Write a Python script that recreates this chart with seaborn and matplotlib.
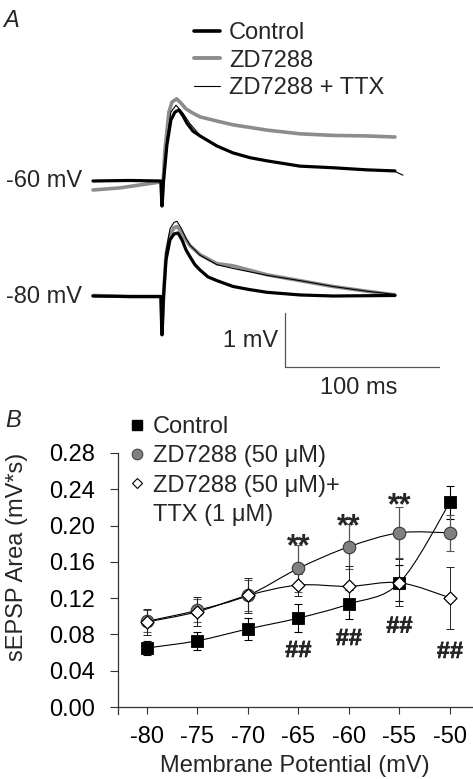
import numpy as np
import matplotlib
matplotlib.use("Agg")
import matplotlib.pyplot as plt
from matplotlib.lines import Line2D
from matplotlib.path import Path
from matplotlib.patches import PathPatch
import matplotlib.patheffects as pe
import seaborn as sns

# ---------------- data: panel A traces (time in ms, deflection in mV) ----------------
t_c60 = [-44.6, -20.6, -0.5, 0.2, 1.2, 3.4, 6.0, 8.6, 11.2, 13.8, 16.4, 20.3, 24.9, 35.9, 46.3, 57.3, 68.4, 89.8, 111.2, 133.3, 151.5]
v_c60 = [0.00, 0.01, 0.00, -0.47, 0.00, 0.68, 1.15, 1.30, 1.34, 1.23, 1.09, 0.94, 0.85, 0.66, 0.53, 0.44, 0.38, 0.28, 0.25, 0.21, 0.19]

t_t60 = [-44.6, -20.6, -0.5, 0.2, 1.2, 3.4, 6.0, 9.3, 13.8, 18.4, 24.9, 35.9, 46.3, 57.3, 68.4, 89.8, 111.2, 133.3, 151.5, 156.7]
v_t60 = [0.00, 0.01, 0.00, -0.47, 0.00, 0.80, 1.30, 1.43, 1.28, 1.08, 0.86, 0.66, 0.53, 0.44, 0.38, 0.28, 0.25, 0.21, 0.18, 0.11]

t_g60 = [-44.6, -27.1, -14.1, -1.1, -0.3, 0.2, 1.0, 2.1, 4.7, 6.7, 9.7, 12.5, 15.8, 20.3, 24.9, 35.9, 46.3, 68.4, 89.8, 111.2, 133.3, 151.5]
v_g60 = [-0.17, -0.13, -0.075, -0.02, -0.02, -0.47, 0.0, 0.58, 1.30, 1.49, 1.55, 1.47, 1.36, 1.28, 1.21, 1.13, 1.06, 0.96, 0.89, 0.86, 0.85, 0.83]

t_c80 = [-44.6, -20.6, -0.5, 0.2, 1.2, 2.8, 5.4, 8.0, 10.6, 13.2, 15.8, 18.4, 21.6, 24.9, 30.1, 35.9, 46.3, 57.3, 68.4, 89.8, 111.2, 151.5]
v_c80 = [0.01, 0.00, 0.00, -0.72, 0.00, 0.69, 1.07, 1.18, 1.20, 1.07, 0.88, 0.75, 0.60, 0.50, 0.37, 0.30, 0.19, 0.13, 0.08, 0.03, 0.01, 0.02]

t_g80 = [-44.6, -20.6, -0.5, 0.2, 1.2, 2.8, 5.4, 8.0, 9.9, 12.5, 15.8, 18.4, 24.9, 35.9, 46.3, 68.4, 89.8, 111.2, 133.3, 151.5]
v_g80 = [0.02, 0.00, 0.00, -0.72, 0.00, 0.79, 1.16, 1.30, 1.32, 1.24, 1.07, 0.96, 0.79, 0.62, 0.58, 0.41, 0.30, 0.19, 0.10, 0.03]

t_t80 = [-44.6, -20.6, -0.5, 0.2, 1.2, 2.8, 5.4, 8.0, 9.9, 12.5, 15.8, 18.4, 24.9, 35.9, 46.3, 68.4, 89.8, 111.2, 133.3, 151.5]
v_t80 = [0.00, 0.01, 0.00, -0.72, 0.00, 0.85, 1.28, 1.40, 1.42, 1.30, 1.10, 0.97, 0.78, 0.60, 0.53, 0.40, 0.30, 0.19, 0.10, 0.04]

trace_labels = ["Control", "ZD7288", "ZD7288 + TTX"]
holding_labels = ["-60 mV", "-80 mV"]

# ---------------- data: panel B ----------------
potential = [-80, -75, -70, -65, -60, -55, -50]
control = [0.065, 0.073, 0.086, 0.098, 0.1135, 0.137, 0.2256]
control_err = [0.008, 0.010, 0.012, 0.015, 0.016, 0.020, 0.018]
zd = [0.0944, 0.1066, 0.123, 0.1528, 0.1766, 0.192, 0.192]
zd_err = [0.012, 0.013, 0.017, 0.026, 0.025, 0.028, 0.020]
zdttx = [0.0937, 0.105, 0.123, 0.1344, 0.133, 0.137, 0.1204]
zdttx_err = [0.014, 0.016, 0.019, 0.012, 0.022, 0.026, 0.034]
series_labels = ["Control", "ZD7288 (50 \u03bcM)", "ZD7288 (50 \u03bcM)+", "TTX (1 \u03bcM)"]
star_x = [-65, -60, -55]
star_y = [0.1676, 0.1896, 0.2121]
hash_x = [-65, -60, -55, -50]
hash_y = [0.0551, 0.0683, 0.0819, 0.054]
yticks = [0.00, 0.04, 0.08, 0.12, 0.16, 0.20, 0.24, 0.28]

# ---------------- style ----------------
sns.set_theme(style="ticks")
plt.rcParams["font.family"] = ["Liberation Sans", "DejaVu Sans"]
FS = 17
SPINE = "#333333"
GRAY = "#8c8c8c"

W, H = 473, 779
fig = plt.figure(figsize=(W / 100, H / 100), dpi=100)


def fx(px):
    return px / W


def fy(py):
    return 1 - py / H


# ---------------- panel A ----------------
ax_a = fig.add_axes([fx(85), fy(400), fx(445) - fx(85), fy(10) - fy(400)])
ax_a.set_xlim(-49.8, 184.0)
ax_a.set_ylim(-4.132, 3.226)
ax_a.axis("off")
OFF80 = -2.18

ax_a.plot(t_g60, v_g60, color=GRAY, lw=2.6, solid_joinstyle="round", zorder=1)
ax_a.plot(t_c60, v_c60, color="black", lw=2.3, solid_joinstyle="round", zorder=2)
ax_a.plot(t_t60, v_t60, color="black", lw=0.8, zorder=3)
ax_a.plot(t_g80, np.array(v_g80) + OFF80, color=GRAY, lw=2.6, solid_joinstyle="round", zorder=1)
ax_a.plot(t_c80, np.array(v_c80) + OFF80, color="black", lw=2.3, solid_joinstyle="round", zorder=2)
ax_a.plot(t_t80, np.array(v_t80) + OFF80, color="black", lw=0.8, zorder=3)

# scale bar
ax_a.plot([80, 80, 180], [-2.5, -3.5, -3.5], color="#555555", lw=0.9)
ax_a.text(75.7, -3.02, "1 mV", ha="right", va="center", fontsize=FS)
ax_a.text(127.7, -3.9, "100 ms", ha="center", va="center", fontsize=FS)
ax_a.text(-51.8, 0.0, holding_labels[0], ha="right", va="center", fontsize=FS)
ax_a.text(-51.8, OFF80, holding_labels[1], ha="right", va="center", fontsize=FS)

h_a = [Line2D([], [], color="black", lw=2.6),
       Line2D([], [], color=GRAY, lw=2.8),
       Line2D([], [], color="black", lw=0.8)]
ax_a.legend(h_a, trace_labels, loc="upper left", bbox_to_anchor=(fx(194), fy(22)),
            bbox_transform=fig.transFigure, frameon=False, borderpad=0, borderaxespad=0,
            handlelength=1.1, handletextpad=0.38, labelspacing=0.24, fontsize=FS)

fig.text(fx(3), fy(20.5), "A", fontsize=FS, style="italic", ha="left", va="center")
fig.text(fx(5), fy(420.5), "B", fontsize=FS, style="italic", ha="left", va="center")

# ---------------- panel B ----------------
ax = fig.add_axes([fx(118), fy(707), fx(472) - fx(118), fy(453) - fy(707)])
ax.set_xlim(-82.84, -47.82)
ax.set_ylim(0, 0.28)


def smooth_path(xs, ys, **kw):
    xs = np.asarray(xs, float)
    ys = np.asarray(ys, float)
    pts = np.column_stack([xs, ys])
    n = len(pts)
    verts = [pts[0]]
    codes = [Path.MOVETO]
    for i in range(n - 1):
        p0 = pts[i - 1] if i > 0 else pts[i]
        p1 = pts[i]
        p2 = pts[i + 1]
        p3 = pts[i + 2] if i + 2 < n else pts[i + 1]
        c1 = p1 + (p2 - p0) / 6.0
        c2 = p2 - (p3 - p1) / 6.0
        verts += [c1, c2, p2]
        codes += [Path.CURVE4] * 3
    ax.add_patch(PathPatch(Path(verts, codes), fill=False, **kw))


smooth_path(potential, control, color="black", lw=0.8, zorder=2)
smooth_path(potential, zd, color="black", lw=0.8, zorder=2)
smooth_path(potential, zdttx, color="black", lw=0.8, zorder=2)

ax.errorbar(potential, control, yerr=control_err, fmt="none", ecolor="black",
            elinewidth=0.8, capsize=2.9, capthick=0.8, zorder=3)
ax.errorbar(potential, zd, yerr=zd_err, fmt="none", ecolor="#555555",
            elinewidth=0.9, capsize=2.9, capthick=0.8, zorder=3)
ax.errorbar(potential, zdttx, yerr=zdttx_err, fmt="none", ecolor="#222222",
            elinewidth=0.7, capsize=2.9, capthick=0.7, zorder=3)

sns.scatterplot(x=potential, y=control, marker="s", s=8.0 ** 2, color="black",
                edgecolor="black", linewidth=0.6, ax=ax, zorder=4)
sns.scatterplot(x=potential, y=zd, marker="o", s=9.0 ** 2, color="#808080",
                edgecolor="#3a3a3a", linewidth=0.8, ax=ax, zorder=5)
sns.scatterplot(x=potential, y=zdttx, marker="D", s=6.6 ** 2, color="white",
                edgecolor="black", linewidth=0.9, ax=ax, zorder=6)

thick = [pe.withStroke(linewidth=0.35, foreground="black")]
for xv, yv in zip(star_x, star_y):
    ax.text(xv, yv, "**", ha="center", va="baseline", fontsize=22, fontweight="bold",
            zorder=7)
for xv, yv in zip(hash_x, hash_y):
    ax.text(xv, yv, "##", ha="center", va="baseline", fontsize=FS, fontweight="bold",
            zorder=7, path_effects=thick)

ax.set_xticks(potential)
ax.set_xticklabels([str(p) for p in potential])
ax.set_yticks(yticks)
ax.set_yticklabels([f"{v:.2f}" for v in yticks])
ax.tick_params(axis="y", direction="out", length=5.8, width=0.8, pad=10.5,
               labelsize=FS, colors=SPINE, labelcolor="black")
ax.tick_params(axis="x", direction="out", length=5.0, width=0.8, pad=9,
               labelsize=FS, colors=SPINE, labelcolor="black")
for side in ["top", "right"]:
    ax.spines[side].set_visible(False)
for side in ["left", "bottom"]:
    ax.spines[side].set_color(SPINE)
    ax.spines[side].set_linewidth(0.9)
ax.spines["left"].set_bounds(-0.0077, 0.28)

ax.set_xlabel("Membrane Potential (mV)", fontsize=FS, labelpad=5)
ax.set_ylabel("sEPSP Area (mV*s)", fontsize=FS)
ax.yaxis.set_label_coords(-0.254, 0.59)

h_b = [Line2D([], [], ls="none", marker="s", ms=6.8, mfc="black", mec="black"),
       Line2D([], [], ls="none", marker="o", ms=7.7, mfc="#808080", mec="#3a3a3a", mew=0.7),
       Line2D([], [], ls="none", marker="D", ms=5.4, mfc="white", mec="black", mew=0.8),
       Line2D([], [], ls="none")]
ax.legend(h_b, series_labels, loc="upper left", bbox_to_anchor=(fx(130), fy(416)),
          bbox_transform=fig.transFigure, frameon=False, borderpad=0, borderaxespad=0,
          handlelength=0.6, handletextpad=0.38, labelspacing=0.31, fontsize=FS)

fig.savefig("out.png", dpi=100)
